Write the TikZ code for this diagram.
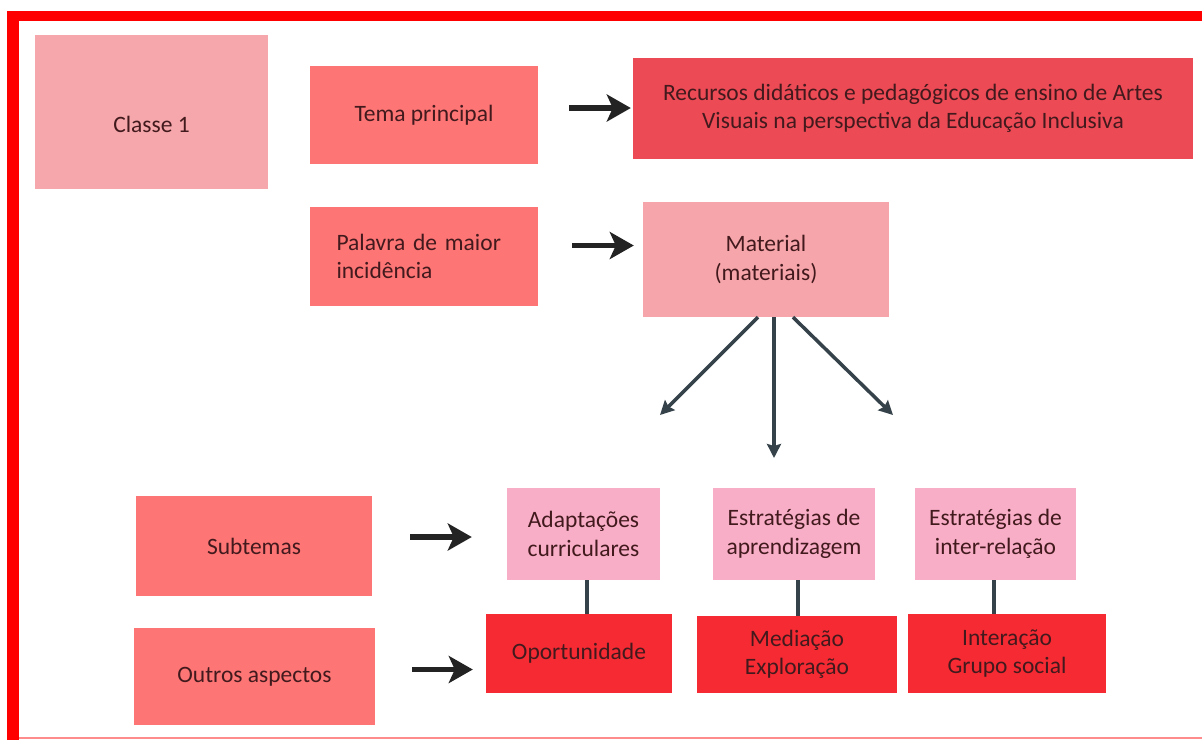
\documentclass[tikz,border=0pt]{standalone}
\usepackage{fontspec}
\setmainfont{Carlito}
\usetikzlibrary{arrows.meta}
\definecolor{frame}{HTML}{FF0000}
\definecolor{clsfill}{HTML}{F5A7AB}
\definecolor{salmon}{HTML}{FD7575}
\definecolor{rosered}{HTML}{EC4A55}
\definecolor{matfill}{HTML}{F6A6AB}
\definecolor{pinkfill}{HTML}{F8AEC7}
\definecolor{redfill}{HTML}{F52A33}
\definecolor{txt}{HTML}{421A1D}
\definecolor{darkarrow}{HTML}{232323}
\definecolor{slate}{HTML}{35424A}

\begin{document}
\begin{tikzpicture}[x=1pt,y=1pt]
\tikzstyle{every node}+=[inner sep=0pt]
\tikzstyle{box}=[draw=none, text=txt, align=center, font=\fontsize{23.5}{28.5}\selectfont]
\tikzstyle{bigarrow}=[darkarrow, line width=5.5pt, -{Stealth[length=24pt,width=27pt,inset=6pt]}]
\tikzstyle{thinarrow}=[slate, line width=3.5pt, -{Stealth[length=14pt,width=14pt,inset=2pt]}]
\tikzstyle{link}=[slate, line width=3.5pt]
\useasboundingbox (0,0) rectangle (1202,-740);
\fill [white] (0,0) rectangle (1202,-740);
\fill [frame] (7,-11) rectangle (1202,-21);
\fill [frame] (7,-11) rectangle (19,-740);
\draw [frame!45, line width=2pt] (19,-738) -- (1202,-738);
\draw (151.5,-112) node [box, fill=clsfill, minimum width=233pt, minimum height=154pt] (cls) {\raisebox{-20pt}[0pt][0pt]{Classe 1}};
\draw (424,-115) node [box, fill=salmon, minimum width=228pt, minimum height=98pt] (tema) {Tema principal};
\draw (913,-108.5) node [box, fill=rosered, minimum width=560pt, minimum height=101pt] (rec) {Recursos didáticos e pedagógicos de ensino de Artes\\Visuais na perspectiva da Educação Inclusiva};
\draw (424,-256.5) node [box, fill=salmon, minimum height=99pt, text width=175pt, inner xsep=26.5pt, align=left] (pal) {Palavra de maior\\incidência};
\draw (766,-259.5) node [box, fill=matfill, minimum width=246pt, minimum height=115pt] (mat) {Material\\(materiais)};
\draw (254,-546) node [box, fill=salmon, minimum width=236pt, minimum height=100pt] (sub) {Subtemas};
\draw (254.5,-676.5) node [box, fill=salmon, minimum width=241pt, minimum height=97pt] (out) {Outros aspectos};
\draw (583.5,-534) node [box, fill=pinkfill, minimum width=153pt, minimum height=92pt] (adp) {Adaptações\\curriculares};
\draw (794,-534) node [box, fill=pinkfill, minimum width=162pt, minimum height=92pt] (apr) {Estratégias de\\aprendizagem};
\draw (995.5,-534) node [box, fill=pinkfill, minimum width=161pt, minimum height=92pt] (irl) {Estratégias de\\inter-relação};
\draw (579,-653.5) node [box, fill=redfill, minimum width=186pt, minimum height=79pt] (opo) {Oportunidade};
\draw (797,-654.5) node [box, fill=redfill, minimum width=200pt, minimum height=77pt] (med) {Mediação\\Exploração};
\draw (1007,-653.5) node [box, fill=redfill, minimum width=198pt, minimum height=79pt] (int) {Interação\\Grupo social};
\coordinate (tipl) at (660,-415);
\coordinate (tipc) at (774,-458);
\coordinate (tipr) at (893,-415);
\draw [bigarrow, shorten <=31pt, shorten >=2pt] ([yshift=7pt]tema.east) -- ([yshift=7pt]tema.east -| rec.west);
\draw [bigarrow, shorten <=34pt, shorten >=9pt] ([yshift=11pt]pal.east) -- ([yshift=11pt]pal.east -| mat.west);
\draw [bigarrow, shorten <=38pt, shorten >=35pt] ([yshift=9pt]sub.east) -- ([yshift=9pt]sub.east -| adp.west);
\draw [bigarrow, shorten <=37pt, shorten >=13pt] ([yshift=7pt]out.east) -- ([yshift=7pt]out.east -| opo.west);
\draw [thinarrow] ([xshift=-8pt]mat.south) -- (tipl);
\draw [thinarrow] ([xshift=8pt]mat.south) -- (tipc);
\draw [thinarrow] ([xshift=27pt]mat.south) -- (tipr);
\draw [link] ([xshift=3.5pt]adp.south) -- ([xshift=3.5pt]adp.south |- opo.north);
\draw [link] ([xshift=4pt]apr.south) -- ([xshift=4pt]apr.south |- med.north);
\draw [link] ([xshift=-1.5pt]irl.south) -- ([xshift=-1.5pt]irl.south |- int.north);
\end{tikzpicture}
\end{document}
